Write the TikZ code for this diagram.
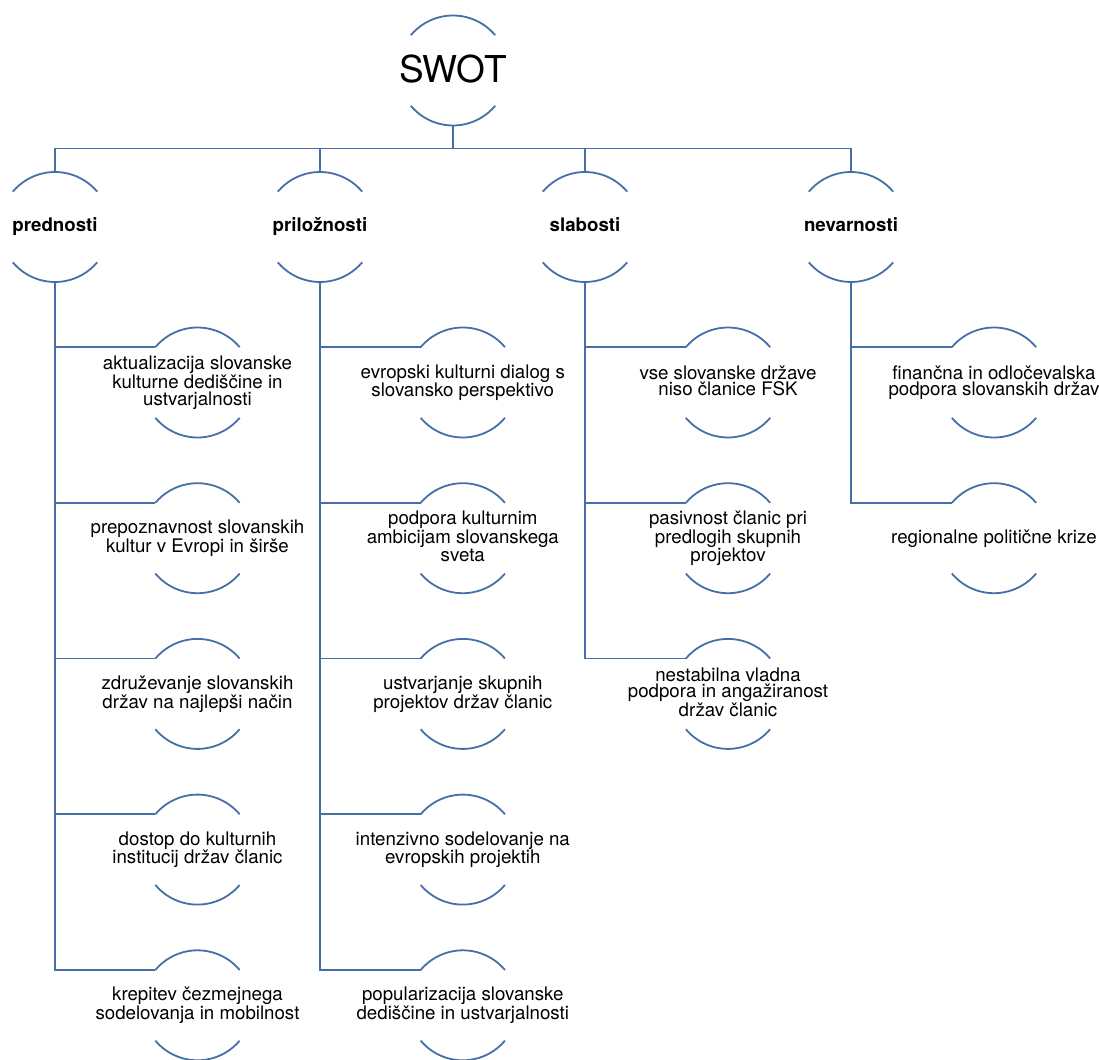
\documentclass[tikz,border=0pt]{standalone}
\usepackage{fontspec}
\setmainfont{TeX Gyre Heros}
\definecolor{lineblue}{RGB}{69,111,166}
\tikzset{
  x=1pt, y=1pt,
  arcline/.style={draw=lineblue, line width=1.8pt},
  conn/.style={draw=lineblue, line width=1.8pt, line join=miter},
  rootlabel/.style={inner sep=0pt, font=\fontsize{37}{40}\selectfont},
  toplabel/.style={inner sep=0pt, align=center, font=\fontsize{18.7}{16.5}\selectfont\bfseries},
  leaflabel/.style={inner sep=0pt, align=center, font=\fontsize{18.7}{16.5}\selectfont},
}
\newcommand\topstrut{\rule{0pt}{14pt}}
\newcommand\botstrut{\rule[-4.2pt]{0pt}{4.2pt}}
\newcommand\circnode[5]{%
  \node[#5] (#1) at (#2,#3) {\topstrut#4\botstrut};
  \coordinate (#1-t) at (#2,#3+55);
  \coordinate (#1-b) at (#2,#3-55);
  \coordinate (#1-l) at (#2-42.13,#3+35.35);
  \draw[arcline] (#2,#3) ++(40:55pt) arc[start angle=40,end angle=140,radius=55pt];
  \draw[arcline] (#2,#3) ++(220:55pt) arc[start angle=220,end angle=320,radius=55pt];
}
\begin{document}
\begin{tikzpicture}
\useasboundingbox (0,0) rectangle (1099,-1059);
% root
\circnode{swot}{453}{-70.5}{SWOT}{rootlabel}
% level 1
\circnode{pr}{55}{-227}{prednosti}{toplabel}
\circnode{po}{320}{-227}{priložnosti}{toplabel}
\circnode{sl}{585}{-227}{slabosti}{toplabel}
\circnode{ne}{851}{-227}{nevarnosti}{toplabel}
% prednosti children
\circnode{pr1}{197.5}{-382.5}{aktualizacija slovanske\\kulturne dediščine in\\ustvarjalnosti}{leaflabel}
\circnode{pr2}{197.5}{-538.2}{prepoznavnost slovanskih\\kultur v Evropi in širše}{leaflabel}
\circnode{pr3}{197.5}{-693.9}{združevanje slovanskih\\držav na najlepši način}{leaflabel}
\circnode{pr4}{197.5}{-849.6}{dostop do kulturnih\\institucij držav članic}{leaflabel}
\circnode{pr5}{197.5}{-1005.3}{krepitev čezmejnega\\sodelovanja in mobilnost}{leaflabel}
% priložnosti children
\circnode{po1}{462.8}{-382.5}{evropski kulturni dialog s\\slovansko perspektivo}{leaflabel}
\circnode{po2}{462.8}{-538.2}{podpora kulturnim\\ambicijam slovanskega\\sveta}{leaflabel}
\circnode{po3}{462.8}{-693.9}{ustvarjanje skupnih\\projektov držav članic}{leaflabel}
\circnode{po4}{462.8}{-849.6}{intenzivno sodelovanje na\\evropskih projektih}{leaflabel}
\circnode{po5}{462.8}{-1005.3}{popularizacija slovanske\\dediščine in ustvarjalnosti}{leaflabel}
% slabosti children
\circnode{sl1}{728}{-382.5}{vse slovanske države\\niso članice FSK}{leaflabel}
\circnode{sl2}{728}{-538.2}{pasivnost članic pri\\predlogih skupnih\\projektov}{leaflabel}
\circnode{sl3}{728}{-693.9}{nestabilna vladna\\podpora in angažiranost\\držav članic}{leaflabel}
% nevarnosti children
\circnode{ne1}{994}{-382.5}{finančna in odločevalska\\podpora slovanskih držav}{leaflabel}
\circnode{ne2}{994}{-538.2}{regionalne politične krize}{leaflabel}
% bus
\coordinate (bus) at (0,-148.5);
\draw[conn] (pr-t) -- (pr-t |- bus) -- (ne-t |- bus) -- (ne-t);
\draw[conn] (swot-b) -- (swot-b |- bus);
\draw[conn] (po-t) -- (po-t |- bus);
\draw[conn] (sl-t) -- (sl-t |- bus);
% prednosti branches
\draw[conn] (pr-b) -- (pr-b |- pr5-l) -- (pr5-l);
\foreach \c in {pr1,pr2,pr3,pr4} \draw[conn] (pr-b |- \c-l) -- (\c-l);
% priložnosti branches
\draw[conn] (po-b) -- (po-b |- po5-l) -- (po5-l);
\foreach \c in {po1,po2,po3,po4} \draw[conn] (po-b |- \c-l) -- (\c-l);
% slabosti branches
\draw[conn] (sl-b) -- (sl-b |- sl3-l) -- (sl3-l);
\foreach \c in {sl1,sl2} \draw[conn] (sl-b |- \c-l) -- (\c-l);
% nevarnosti branches
\draw[conn] (ne-b) -- (ne-b |- ne2-l) -- (ne2-l);
\draw[conn] (ne-b |- ne1-l) -- (ne1-l);
\end{tikzpicture}
\end{document}
